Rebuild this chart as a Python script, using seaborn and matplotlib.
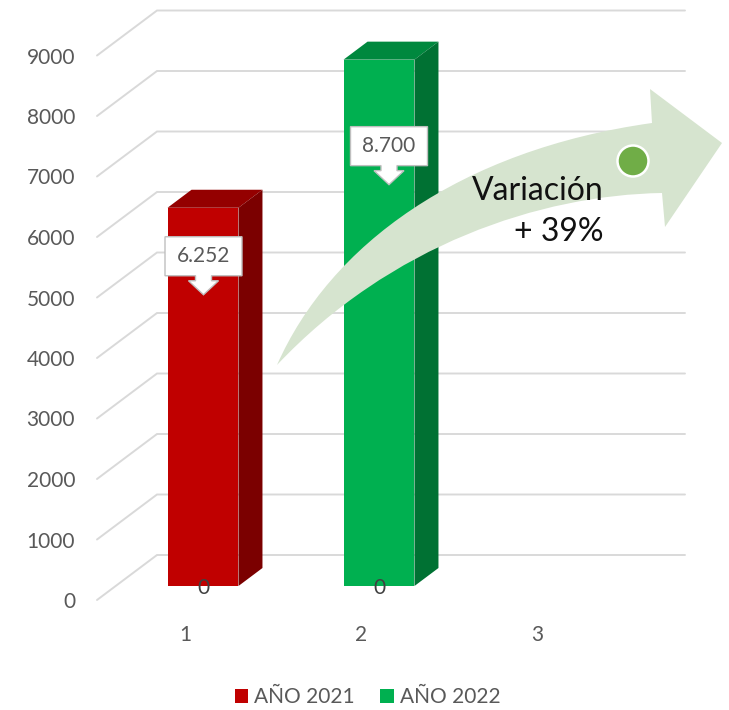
import numpy as np
import pandas as pd
import matplotlib
matplotlib.use("Agg")
import matplotlib.pyplot as plt
import seaborn as sns
from matplotlib.patches import Polygon, PathPatch, Patch, Circle
from matplotlib.path import Path
from matplotlib.transforms import IdentityTransform, ScaledTranslation
from matplotlib.colors import to_rgb

# ---------------- data ----------------
categories = ["1", "2", "3"]
series_names = ["AÑO 2021", "AÑO 2022"]
bar_categories = ["1", "2"]
bar_series = ["AÑO 2021", "AÑO 2022"]
bar_values = [6252, 8700]
value_labels = ["6.252", "8.700"]
zero_label_categories = ["1", "2"]
zero_label_values = [0, 0]
yticks = list(range(0, 10000, 1000))
variation_title = "Variación"
variation_value = "+ 39%"

series_colors = {"AÑO 2021": "#c00000", "AÑO 2022": "#00b050"}

# ---------------- style ----------------
sns.set_theme(style="white")
plt.rcParams["font.family"] = ["Lato", "DejaVu Sans"]
TXT = "#595959"
GRID = "#d9d9d9"

W, H = 729, 710
fig = plt.figure(figsize=(W / 100, H / 100), dpi=100, facecolor="white")
ax = fig.add_axes([115 / W, (H - 586) / H, 528 / W, 544.5 / H])

df = pd.DataFrame({"cat": bar_categories, "serie": bar_series, "valor": bar_values})
sns.barplot(data=df, x="cat", y="valor", hue="serie", order=categories,
            hue_order=series_names, palette=series_colors, dodge=False,
            width=0.403, saturation=1, linewidth=0, ax=ax, zorder=2)
if ax.legend_ is not None:
    ax.legend_.remove()

ax.set_xlim(-0.5, 2.5)
ax.set_ylim(0, 9000)
ax.set_xlabel("")
ax.set_ylabel("")
for s in ax.spines.values():
    s.set_visible(False)
ax.grid(False)

# perspective offsets (pixels, y downward)
FRONT = (-18, 14)
BACK = (42, -31)
DEPTH = (24, -18)


def disp(x, y):
    return np.array(ax.transData.transform((x, y)))


def off(p, d):
    return np.array([p[0] + d[0], p[1] - d[1]])


idt = IdentityTransform()

# ---------------- gridlines (walls) ----------------
for v in yticks:
    pl = disp(-0.5, v)
    pr = disp(2.5, v)
    f = off(pl, FRONT)
    bl = off(pl, BACK)
    br = off(pr, BACK)
    ax.plot([f[0], bl[0], br[0]], [f[1], bl[1], br[1]], color=GRID, lw=1.4,
            transform=idt, clip_on=False, zorder=0.5, solid_joinstyle="miter")

# ---------------- y tick labels ----------------
ax.set_yticks(yticks)
ax.set_yticklabels([str(v) for v in yticks])
ax.tick_params(axis="y", length=0, pad=15.8, labelsize=15, labelcolor=TXT)
for lab in ax.get_yticklabels():
    lab.set_transform(lab.get_transform() +
                      ScaledTranslation(FRONT[0] / 100, -FRONT[1] / 100, fig.dpi_scale_trans))

# ---------------- x tick labels ----------------
ax.set_xticks(range(len(categories)))
ax.set_xticklabels(categories)
ax.tick_params(axis="x", length=0, pad=18, labelsize=15, labelcolor=TXT)
for lab in ax.get_xticklabels():
    lab.set_transform(lab.get_transform() +
                      ScaledTranslation(FRONT[0] / 100, -FRONT[1] / 100, fig.dpi_scale_trans))

# ---------------- 3D faces of bars ----------------
for patch in list(ax.patches):
    h = patch.get_height()
    if not np.isfinite(h) or h <= 0:
        continue
    x0 = patch.get_x()
    w = patch.get_width()
    rgb = np.array(to_rgb(patch.get_facecolor()))
    top_c = rgb * 0.77
    side_c = rgb * 0.64
    tl, tr = disp(x0, h), disp(x0 + w, h)
    bl, br = disp(x0, 0), disp(x0 + w, 0)
    top = [tl, tr, off(tr, DEPTH), off(tl, DEPTH)]
    side = [br, tr, off(tr, DEPTH), off(br, DEPTH)]
    ax.add_patch(Polygon(top, closed=True, fc=top_c, ec="none", transform=idt,
                         clip_on=False, zorder=2))
    ax.add_patch(Polygon(side, closed=True, fc=side_c, ec="none", transform=idt,
                         clip_on=False, zorder=2))

# ---------------- "0" labels at the base ----------------
for c, v in zip(zero_label_categories, zero_label_values):
    i = categories.index(c)
    ax.text(i, v, str(v), ha="center", va="center", fontsize=15, color="#404040",
            transform=ax.transData + ScaledTranslation(0, -2 / 100, fig.dpi_scale_trans),
            zorder=3, clip_on=False)

# ---------------- callouts ----------------
callout_offsets = [(0.5, 29), (10, 67)]  # box centre dx, box top dy (px) from bar top
BW, BH = 77, 39
for c, v, lab, (dx, dy) in zip(bar_categories, bar_values, value_labels, callout_offsets):
    i = categories.index(c)
    a = disp(i, v)
    cx = a[0] + dx
    top = a[1] - dy
    bot = top - BH
    x0, x1 = cx - BW / 2, cx + BW / 2
    pts = [(x0, top), (x1, top), (x1, bot), (cx + 8, bot), (cx + 8, bot - 5),
           (cx + 15, bot - 5), (cx, bot - 19), (cx - 15, bot - 5), (cx - 8, bot - 5),
           (cx - 8, bot), (x0, bot)]
    ax.add_patch(Polygon(pts, closed=True, fc="white", ec="#bfbfbf", lw=1.0,
                         transform=idt, clip_on=False, zorder=4))
    ax.text(cx, (top + bot) / 2, lab, ha="center", va="center", fontsize=15,
            color=TXT, transform=idt, zorder=5, clip_on=False)

# ---------------- curved arrow (annotation) ----------------
def P(x, y):
    return (x, H - y)

verts = [P(277, 365),
         P(330, 245), P(460, 150), P(652, 123),
         P(650, 89), P(722, 143), P(665, 227), P(662, 193),
         P(540, 195), P(390, 245), P(277, 365),
         P(277, 365)]
codes = [Path.MOVETO,
         Path.CURVE4, Path.CURVE4, Path.CURVE4,
         Path.LINETO, Path.LINETO, Path.LINETO, Path.LINETO,
         Path.CURVE4, Path.CURVE4, Path.CURVE4,
         Path.CLOSEPOLY]
ax.add_patch(PathPatch(Path(verts, codes), fc="#d6e4cf", ec="none",
                       transform=idt, clip_on=False, zorder=6))

ax.text(*P(604, 200), variation_title, ha="right", va="baseline", fontsize=23,
        fontweight="normal", color="#111111", transform=idt, zorder=7, clip_on=False)
ax.text(*P(604, 241), variation_value, ha="right", va="baseline", fontsize=23,
        fontweight="normal", color="#111111", transform=idt, zorder=7, clip_on=False)

ax.add_patch(Circle(P(633, 161), 15.5, fc="#70ad47", ec="white", lw=1.8,
                    transform=idt, clip_on=False, zorder=7))

# ---------------- legend ----------------
handles = [Patch(facecolor=series_colors[s], edgecolor="none") for s in series_names]
fig.legend(handles, series_names, loc="center", bbox_to_anchor=(367.5 / W, 1 - 697 / H),
           ncol=2, frameon=False, fontsize=15, handlelength=0.65, handleheight=0.65,
           handletextpad=0.3, columnspacing=1.2, labelcolor=TXT)

fig.savefig("out.png", dpi=100, facecolor="white")
